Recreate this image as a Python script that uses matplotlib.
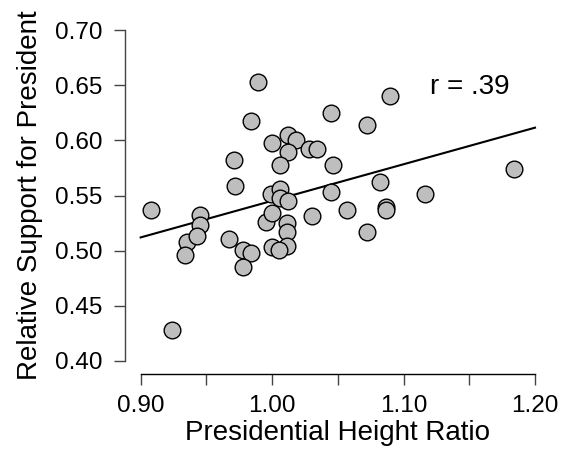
import matplotlib
matplotlib.use("Agg")
import matplotlib.pyplot as plt
import numpy as np

plt.rcParams['font.family'] = ['Liberation Sans', 'DejaVu Sans']

# presidential height ratio vs relative support
height_ratio = [0.908, 0.924, 0.945, 0.945, 0.935, 0.943, 0.934, 0.967,
                0.978, 0.984, 0.978, 0.972, 0.971, 0.984, 0.989, 0.995,
                1.000, 0.999, 1.006, 1.006, 1.012, 1.011, 1.011, 1.011,
                1.000, 1.005, 1.000, 1.012, 1.018, 1.012, 1.006, 1.028,
                1.034, 1.030, 1.045, 1.046, 1.045, 1.057, 1.072, 1.072,
                1.082, 1.090, 1.087, 1.087, 1.116, 1.184]
support = [0.537, 0.428, 0.532, 0.523, 0.508, 0.513, 0.496, 0.511,
           0.501, 0.498, 0.485, 0.559, 0.582, 0.618, 0.653, 0.526,
           0.534, 0.551, 0.556, 0.548, 0.545, 0.525, 0.517, 0.504,
           0.503, 0.501, 0.598, 0.605, 0.600, 0.589, 0.578, 0.592,
           0.592, 0.531, 0.625, 0.578, 0.553, 0.537, 0.614, 0.517,
           0.562, 0.640, 0.540, 0.537, 0.551, 0.574]

# fitted line end points
fit_x = [0.90, 1.20]
fit_y = [0.512, 0.6115]
r_label = "r = .39"

x_ticks = [0.90, 0.95, 1.00, 1.05, 1.10, 1.15, 1.20]
x_labels = ["0.90", "", "1.00", "", "1.10", "", "1.20"]
y_ticks = [0.40, 0.45, 0.50, 0.55, 0.60, 0.65, 0.70]

fig = plt.figure(figsize=(5.63, 4.57), dpi=100)
ax = fig.add_axes([0.2218, 0.1812, 0.9783 - 0.2218, 0.9632 - 0.1812])

ax.scatter(height_ratio, support, s=144, facecolor='#BEBEBE',
           edgecolor='black', linewidth=1.0, zorder=3)
ax.plot(fit_x, fit_y, color='black', linewidth=1.5, zorder=2)

ax.text(1.12, 0.648, r_label, fontsize=20, ha='left', va='center')

ax.set_xlim(0.888, 1.212)
ax.set_ylim(0.388, 0.712)

for side in ['top', 'right']:
    ax.spines[side].set_visible(False)
ax.spines['left'].set_bounds(0.40, 0.70)
ax.spines['bottom'].set_bounds(0.90, 1.20)
ax.spines['left'].set_color('#444444')
ax.spines['bottom'].set_color('black')
ax.spines['left'].set_linewidth(1.0)
ax.spines['bottom'].set_linewidth(1.0)

ax.set_xticks(x_ticks)
ax.set_xticklabels(x_labels)
ax.set_yticks(y_ticks)
ax.set_yticklabels(["%.2f" % v for v in y_ticks])
ax.tick_params(axis='both', labelsize=17.5, length=8, width=1.0, color='#444444')
ax.tick_params(axis='x', pad=7)
ax.tick_params(axis='y', pad=8)

ax.set_xlabel("Presidential Height Ratio", fontsize=20, labelpad=2)
ax.set_ylabel("Relative Support for President", fontsize=20, labelpad=9)

fig.savefig("out.png", dpi=100)
